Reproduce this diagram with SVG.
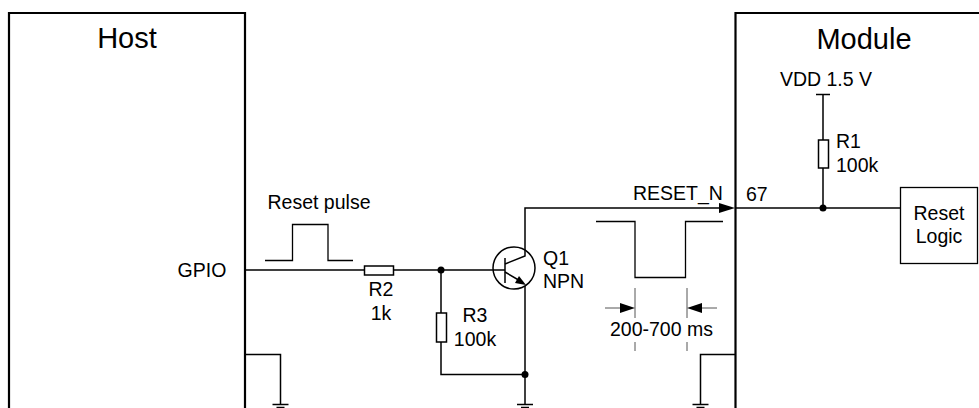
<svg xmlns="http://www.w3.org/2000/svg" width="979" height="408" viewBox="0 0 979 408">
<style>
text{font-family:"Liberation Sans",Arial,sans-serif;font-size:19.500px;fill:#000;text-anchor:middle}
.t{font-size:29px}
.s{text-anchor:start}
.w{fill:none;stroke:#000;stroke-width:1.500}
.b{fill:none;stroke:#000;stroke-width:2.200}
.r{fill:#fff;stroke:#000;stroke-width:1.500}
.th{fill:none;stroke:#000;stroke-width:1.300}
.g{fill:none;stroke:#555;stroke-width:1}
.d{fill:#000}
</style>
<defs>
<g id="gnd"><path class="w" d="M-8 0.500H8"/><path class="w" d="M-4 3.500H4"/></g>
</defs>
<rect width="979" height="408" fill="#fff"/>
<g id="connectors">
<path class="w" d="M245 270H364M394 270H505"/>
<path class="w" d="M441 270V313M441 342V374.500H525"/>
<path class="w" d="M525 249V208H719"/>
<path class="w" d="M525 286V404"/>
<path class="w" d="M245 354.500H280.500V404"/>
<path class="w" d="M735 354.500H700.500V404"/>
<path class="w" d="M823 94V140M823 168V208"/>
<path class="w" d="M735 208H900"/>
<path class="d" d="M735 208L719 203V213Z"/>
</g>
<g id="host"><path class="b" d="M9 408V13H245V408"/><text class="t" x="127" y="48">Host</text><text x="202" y="277">GPIO</text></g>
<g id="module"><path class="b" d="M735.500 408V13H979"/><text class="t" x="864" y="49">Module</text><text x="826" y="86">VDD 1.5 V</text><text class="s" x="746" y="201">67</text><text x="678" y="200">RESET_N</text></g>
<g id="pulse-in"><path class="th" d="M265 260.500H292.500V224.500H328V260.500H353"/><text x="319" y="209">Reset pulse</text></g>
<g id="r2"><rect class="r" x="364.500" y="266" width="29" height="9"/><text x="381" y="296">R2</text><text x="381" y="320">1k</text></g>
<g id="r3"><rect class="r" x="436.500" y="313" width="10" height="29"/><text x="475" y="322">R3</text><text x="475" y="346">100k</text></g>
<g id="junction-1"><circle class="d" cx="441" cy="270" r="3.500"/></g>
<g id="junction-2"><circle class="d" cx="525" cy="374.500" r="3.500"/></g>
<g id="junction-3"><circle class="d" cx="823" cy="208" r="3.500"/></g>
<g id="q1"><circle class="w" cx="514" cy="268" r="21"/><path class="w" d="M505 258V283"/><path class="w" d="M505 264L525 256V249M505 272L522 282"/><path class="d" d="M526 285L515 283L519 276Z"/><text class="s" x="543" y="265">Q1</text><text class="s" x="543" y="288">NPN</text></g>
<g id="pulse-out"><path class="th" d="M596 221.500H635V277.500H685.500V221.500H723"/></g>
<g id="timing"><path class="g" d="M635 288V318M635 342V351M687 288V318M687 342V351M605 308H620M702 308H717"/><path class="d" d="M635 308L620 303V313Z"/><path class="d" d="M687 308L702 303V313Z"/><text x="661.500" y="336">200-700 ms</text></g>
<g id="r1"><path class="w" d="M816 94.500H830"/><rect class="r" x="818.500" y="140" width="10" height="28"/><text class="s" x="836" y="148">R1</text><text class="s" x="836" y="172">100k</text></g>
<g id="reset-logic"><rect class="th" x="900.500" y="187.500" width="77" height="76"/><text x="939" y="220">Reset</text><text x="939" y="243">Logic</text></g>
<g id="grounds"><use href="#gnd" x="280.500" y="404"/><use href="#gnd" x="525" y="404"/><use href="#gnd" x="700.500" y="404"/></g>
</svg>
